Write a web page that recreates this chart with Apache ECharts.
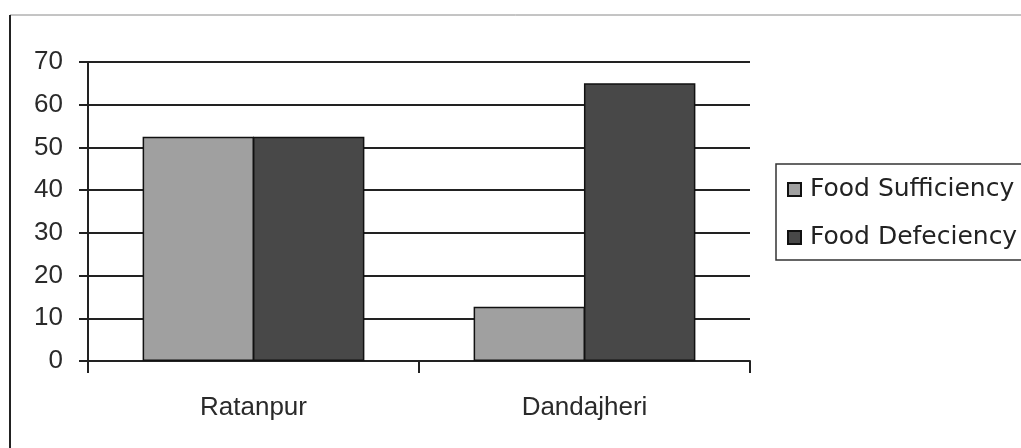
<!DOCTYPE html>
<html>
<head>
<meta charset="utf-8">
<script src="https://cdn.jsdelivr.net/npm/echarts@6/dist/echarts.min.js"></script>
<style>
html,body{margin:0;padding:0;background:#fff;}
#chart{width:1021px;height:448px;}
</style>
</head>
<body>
<div id="chart"></div>
<script>
var categories = ['Ratanpur', 'Dandajheri'];
var seriesNames = ['Food Sufficiency', 'Food Defeciency'];
var sufficiency = [52.5, 12.7];
var defeciency = [52.5, 65];
var yTicks = [0, 10, 20, 30, 40, 50, 60, 70];

var chart = echarts.init(document.getElementById('chart'), null, {renderer: 'canvas'});
var option = {
  backgroundColor: '#ffffff',
  animation: false,
  graphic: [
    {type: 'line', shape: {x1: 10, y1: 15, x2: 1021, y2: 15}, style: {stroke: '#8a8a8a', lineWidth: 1}},
    {type: 'line', shape: {x1: 10, y1: 15, x2: 10, y2: 448}, style: {stroke: '#222', lineWidth: 2}}
  ],
  grid: {left: 88, right: 271, top: 62, bottom: 87, containLabel: false},
  legend: {
    orient: 'vertical',
    left: 776,
    top: 164,
    padding: [13, 40, 10, 11],
    itemGap: 23,
    itemWidth: 13,
    itemHeight: 13,
    icon: 'rect',
    borderColor: '#333',
    borderWidth: 1.5,
    backgroundColor: '#fff',
    textStyle: {fontFamily: 'DejaVu Sans', fontSize: 25, color: '#222', padding: [0, 0, 0, 4]},
    data: seriesNames
  },
  xAxis: {
    type: 'category',
    data: categories,
    boundaryGap: true,
    axisLine: {show: true, lineStyle: {color: '#222', width: 2}},
    axisTick: {show: true, length: 12, alignWithLabel: false, lineStyle: {color: '#222', width: 2}},
    axisLabel: {fontFamily: 'Liberation Sans', fontSize: 26, color: '#2a2a2a', margin: 34}
  },
  yAxis: {
    type: 'value',
    min: 0,
    max: 70,
    interval: 10,
    axisLine: {show: true, lineStyle: {color: '#222', width: 2}},
    axisTick: {show: true, length: 9, lineStyle: {color: '#222', width: 2}},
    splitLine: {show: true, lineStyle: {color: '#222', width: 2}},
    axisLabel: {
      fontFamily: 'Liberation Sans', fontSize: 26, color: '#2a2a2a', margin: 25,
      formatter: function (v) { return yTicks.indexOf(v) >= 0 ? String(v) : ''; }
    }
  },
  series: [
    {
      name: seriesNames[0], type: 'bar', data: sufficiency,
      barGap: '-1%', barCategoryGap: '33%',
      itemStyle: {color: '#a0a0a0', borderColor: '#111', borderWidth: 1.5}
    },
    {
      name: seriesNames[1], type: 'bar', data: defeciency,
      barGap: '-1%', barCategoryGap: '33%',
      itemStyle: {color: '#484848', borderColor: '#111', borderWidth: 1.5}
    }
  ]
};
chart.setOption(option);
</script>
</body>
</html>
